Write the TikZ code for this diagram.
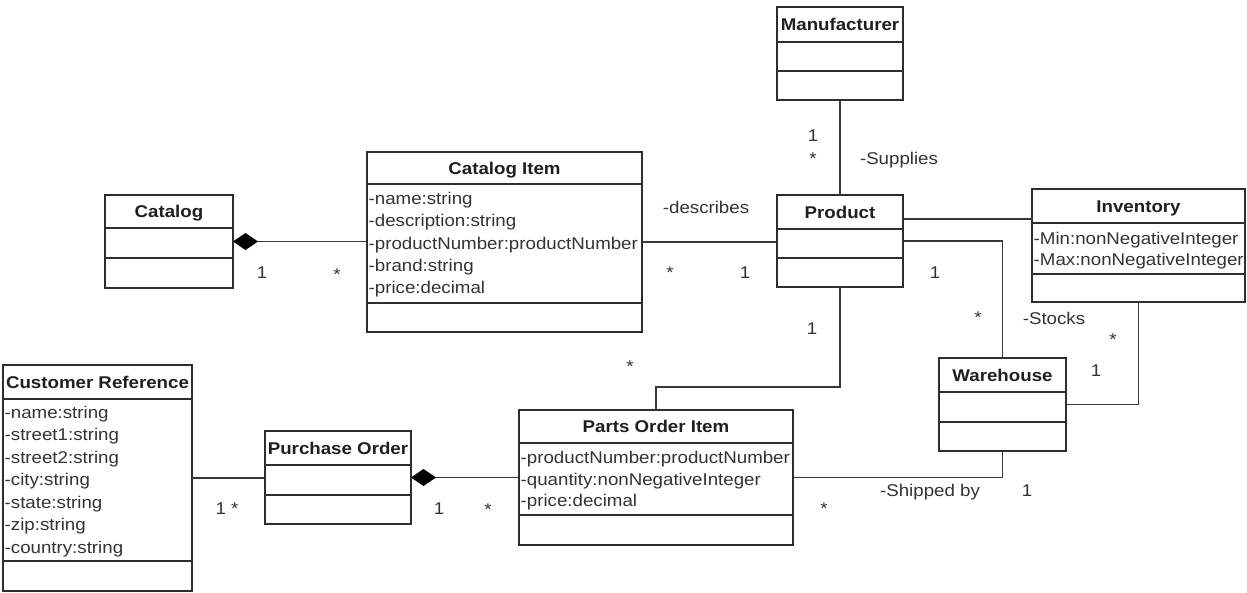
\documentclass[tikz,border=0pt]{standalone}
\usepackage{fontspec}
\setmainfont{Liberation Sans}[FakeStretch=1.1]
\usetikzlibrary{arrows.meta}
\newcommand{\umlclass}[8]{%
  \node[classbox, minimum width={(#4)-(#2)}, minimum height={(#7)-(#3)}] (#1) at (#2,#3) {};
  \draw[divider] (#2,#5) -- (#4,#5);
  \draw[divider] (#2,#6) -- (#4,#6);
  \node[ttl] (#1-t) at ({(#2+#4)/2},{(#3+#5)/2+6}) {#8};
}
\begin{document}
\begin{tikzpicture}[x=1pt,y=-1pt,
  classbox/.style={draw=black!82, line width=1.4pt, fill=white, inner sep=0pt, outer sep=0pt, anchor=north west},
  divider/.style={draw=black!82, line width=1.4pt},
  conn/.style={draw=black!78, line width=1.5pt},
  ttl/.style={font=\fontsize{17}{20}\selectfont\bfseries, text=black!88, inner sep=0pt, anchor=base},
  attr/.style={font=\fontsize{17}{20}\selectfont, text=black!80, inner sep=0pt, anchor=base west},
  lbl/.style={font=\fontsize{17}{20}\selectfont, text=black!80, inner sep=0pt, anchor=base},
  comp/.style={conn, {Diamond[length=25pt,width=17pt,color=black,fill=black]}-}
]
\useasboundingbox[fill=white] (0,0) rectangle (1247,592);

% classes
\umlclass{manuf}{777}{7}{903}{42}{71}{100}{Manufacturer}
\umlclass{product}{777}{195}{903}{229}{258}{287}{Product}
\umlclass{cat}{105}{195}{233}{228}{258}{288}{Catalog}
\umlclass{catitem}{367}{152}{642}{184}{303}{332}{Catalog Item}
\umlclass{inv}{1032}{189}{1245}{223}{274}{302}{Inventory}
\umlclass{wh}{939}{358}{1066}{392}{422}{451}{Warehouse}
\umlclass{poi}{519}{410}{793}{443}{515}{545}{Parts Order Item}
\umlclass{po}{265}{431}{411}{465}{495}{524}{Purchase Order}
\umlclass{cr}{3}{365}{192}{399}{561}{591}{Customer Reference}

% attributes
\node[attr] (ci1) at (368.5,204) {-name:string};
\node[attr] (ci2) at (368.5,226) {-description:string};
\node[attr] (ci3) at (368.5,249) {-productNumber:productNumber};
\node[attr] (ci4) at (368.5,271) {-brand:string};
\node[attr] (ci5) at (368.5,293) {-price:decimal};

\node[attr] (in1) at (1033.5,244) {-Min:nonNegativeInteger};
\node[attr] (in2) at (1033.5,265) {-Max:nonNegativeInteger};

\node[attr] (pi1) at (520.5,463) {-productNumber:productNumber};
\node[attr] (pi2) at (520.5,485) {-quantity:nonNegativeInteger};
\node[attr] (pi3) at (520.5,506) {-price:decimal};

\node[attr] (cr1) at (4.5,418) {-name:string};
\node[attr] (cr2) at (4.5,440) {-street1:string};
\node[attr] (cr3) at (4.5,463) {-street2:string};
\node[attr] (cr4) at (4.5,485) {-city:string};
\node[attr] (cr5) at (4.5,508) {-state:string};
\node[attr] (cr6) at (4.5,530) {-zip:string};
\node[attr] (cr7) at (4.5,553) {-country:string};

% connectors
\draw[comp] (cat.east) -- (catitem.west |- cat.east);
\draw[conn] (catitem.east) -- (catitem.east -| product.west);
\draw[conn] (manuf.south) -- (product.north);
\coordinate (pinv) at ([yshift=22pt]product.east);
\draw[conn] (pinv) -- (pinv -| inv.west);
\draw[conn] (product.east) -| (wh.north);
\draw[conn] (inv.south) |- (wh.east);
\draw[conn] (wh.south) |- (poi.east);
\draw[conn] (product.south) -- ++(0,100) -| (poi.north);
\draw[comp] (po.east) -- (poi.west |- po.east);
\draw[conn] (cr.east) -- (po.west |- cr.east);

% labels
\node[lbl] (l1) at (262,278) {1};
\node[lbl] (l2) at (337,280) {*};
\node[lbl] (l3) at (706,213) {-describes};
\node[lbl] (l4) at (670,278) {*};
\node[lbl] (l5) at (745,278) {1};
\node[lbl] (l6) at (813,141) {1};
\node[lbl] (l7) at (813,164) {*};
\node[lbl] (l8) at (899,164) {-Supplies};
\node[lbl] (l9) at (935,278) {1};
\node[lbl] (l10) at (978,323) {*};
\node[lbl] (l11) at (1054,324) {-Stocks};
\node[lbl] (l12) at (1113,345) {*};
\node[lbl] (l13) at (1096,376) {1};
\node[lbl] (l14) at (812,334) {1};
\node[lbl] (l15) at (630,372) {*};
\node[lbl] (l16) at (930,496) {-Shipped by};
\node[lbl] (l17) at (1027,496) {1};
\node[lbl] (l18) at (824,514) {*};
\node[lbl] (l19) at (439,514) {1};
\node[lbl] (l20) at (488,515) {*};
\node[lbl] (l21) at (227,514) {1 *};
\end{tikzpicture}
\end{document}
